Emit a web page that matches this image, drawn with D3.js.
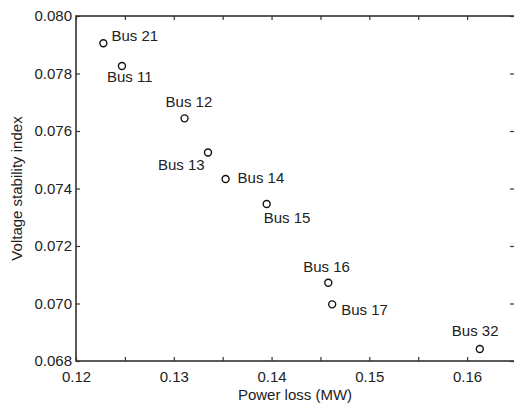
<!DOCTYPE html>
<html>
<head>
<meta charset="utf-8">
<script src="https://cdn.jsdelivr.net/npm/d3@7"></script>
<style>
  html, body { margin: 0; padding: 0; background: #fff; }
  svg { display: block; }
  text { font-family: Arial, "Liberation Sans", Helvetica, sans-serif; fill: #222; }
</style>
</head>
<body>
<svg id="chart" width="514" height="405"></svg>
<script>
// ---- data ----
const buses = ["Bus 21", "Bus 11", "Bus 12", "Bus 13", "Bus 14", "Bus 15", "Bus 16", "Bus 17", "Bus 32"];
const powerLoss = [0.1228, 0.1247, 0.1311, 0.1335, 0.1353, 0.1395, 0.1458, 0.1462, 0.1613];
const stabilityIndex = [0.07905, 0.07826, 0.07644, 0.07525, 0.07433, 0.07346, 0.07072, 0.06997, 0.06842];
const xTicks = [0.12, 0.13, 0.14, 0.15, 0.16];
const xMinorTicks = [0.12, 0.125, 0.13, 0.135, 0.14, 0.145, 0.15, 0.155, 0.16, 0.165];
const yTicks = [0.068, 0.070, 0.072, 0.074, 0.076, 0.078, 0.080];

// ---- layout (label placement relative to each point) ----
const labelOffsets = [[8, -2], [-15, 16], [-19, -11], [-50, 17], [12, 4], [-3, 19], [-25, -11], [9, 11], [-28, -13]];

const svg = d3.select("#chart");
const m = { left: 76, top: 16, right: 516, bottom: 361 };
const x = d3.scaleLinear().domain([0.12, 0.165]).range([m.left, m.right]);
const y = d3.scaleLinear().domain([0.068, 0.080]).range([m.bottom, m.top]);
const axisColor = "#333";
const fontSize = 15;

// bottom axis labels
const gx = svg.append("g").attr("transform", `translate(0,${m.bottom})`)
  .call(d3.axisBottom(x).tickValues(xTicks).tickFormat(d3.format(".2f")).tickSize(0).tickPadding(10));
gx.select(".domain").remove();
gx.selectAll("text").attr("font-size", fontSize).attr("fill", "#222").attr("font-family", "Arial, 'Liberation Sans', sans-serif");

// top/bottom ticks (inward)
const gxTicksB = svg.append("g").attr("transform", `translate(0,${m.bottom})`)
  .call(d3.axisTop(x).tickValues(xMinorTicks).tickFormat("").tickSizeInner(4).tickSizeOuter(0));
gxTicksB.select(".domain").remove();
const gxTicksT = svg.append("g").attr("transform", `translate(0,${m.top})`)
  .call(d3.axisBottom(x).tickValues(xMinorTicks).tickFormat("").tickSizeInner(4).tickSizeOuter(0));
gxTicksT.select(".domain").remove();

// left axis labels
const gy = svg.append("g").attr("transform", `translate(${m.left},0)`)
  .call(d3.axisLeft(y).tickValues(yTicks).tickFormat(d3.format(".3f")).tickSize(0).tickPadding(4));
gy.select(".domain").remove();
gy.selectAll("text").attr("font-size", fontSize).attr("fill", "#222").attr("font-family", "Arial, 'Liberation Sans', sans-serif");

const gyTicksL = svg.append("g").attr("transform", `translate(${m.left},0)`)
  .call(d3.axisRight(y).tickValues(yTicks).tickFormat("").tickSizeInner(4).tickSizeOuter(0));
gyTicksL.select(".domain").remove();
const gyTicksR = svg.append("g").attr("transform", `translate(${m.right - 2},0)`)
  .call(d3.axisLeft(y).tickValues(yTicks).tickFormat("").tickSizeInner(4).tickSizeOuter(0));
gyTicksR.select(".domain").remove();

svg.selectAll(".tick line").attr("stroke", axisColor).attr("stroke-width", 1.2);

// frame
svg.append("rect")
  .attr("x", m.left).attr("y", m.top)
  .attr("width", m.right - m.left).attr("height", m.bottom - m.top)
  .attr("fill", "none").attr("stroke", axisColor).attr("stroke-width", 1.6);

// axis titles
svg.append("text")
  .attr("x", (m.left + 514) / 2).attr("y", 400)
  .attr("text-anchor", "middle").attr("font-size", fontSize)
  .text("Power loss (MW)");
svg.append("text")
  .attr("transform", `translate(22,${(m.top + m.bottom) / 2}) rotate(-90)`)
  .attr("text-anchor", "middle").attr("font-size", fontSize)
  .text("Voltage stability index");

// points
const pts = buses.map((b, i) => ({ name: b, px: powerLoss[i], vy: stabilityIndex[i], off: labelOffsets[i] }));
svg.append("g").selectAll("circle").data(pts).join("circle")
  .attr("cx", d => x(d.px)).attr("cy", d => y(d.vy)).attr("r", 3.5)
  .attr("fill", "none").attr("stroke", "#111").attr("stroke-width", 1.4);

svg.append("g").selectAll("text").data(pts).join("text")
  .attr("x", d => x(d.px) + d.off[0]).attr("y", d => y(d.vy) + d.off[1])
  .attr("font-size", fontSize)
  .text(d => d.name);
</script>
</body>
</html>
